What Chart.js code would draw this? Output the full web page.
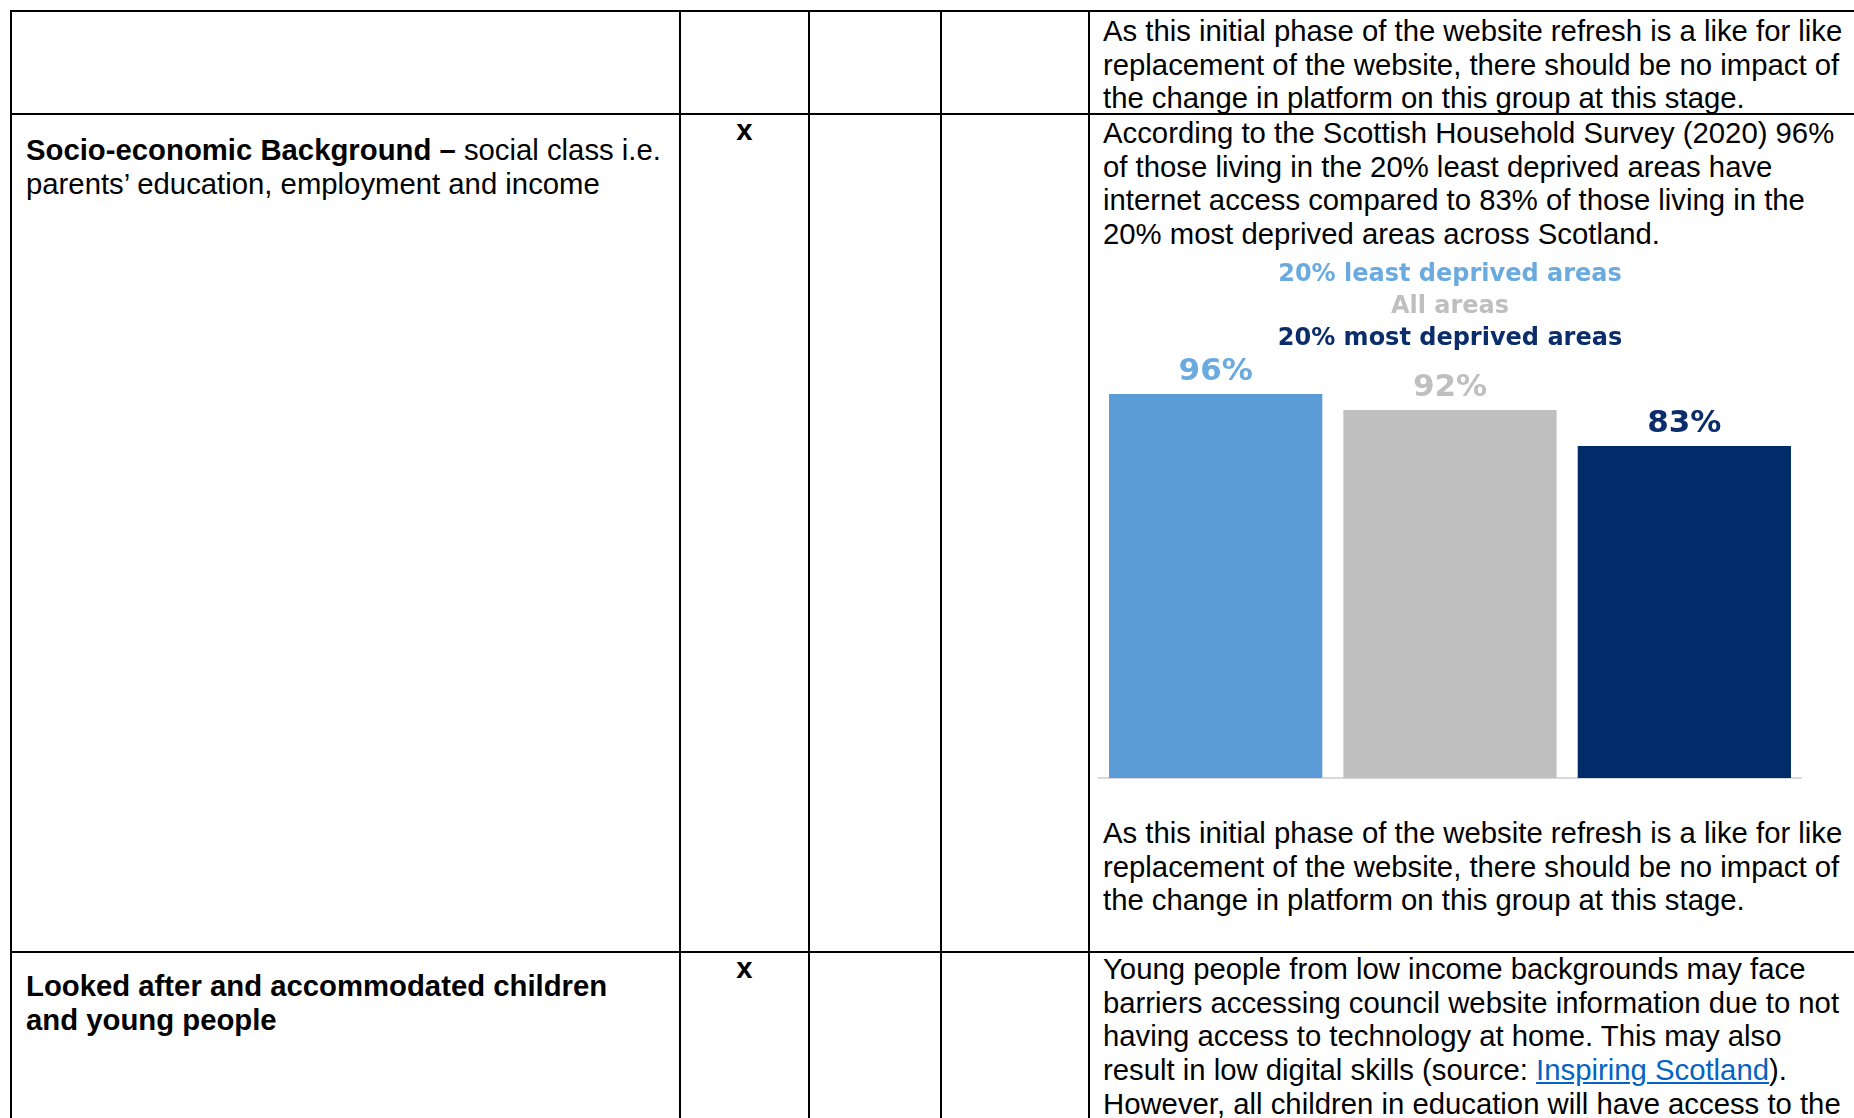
<!DOCTYPE html>
<html>
<head>
<meta charset="utf-8">
<script src="https://cdn.jsdelivr.net/npm/chart.js@4/dist/chart.umd.min.js"></script>
<style>
  html, body { margin: 0; padding: 0; background: #fff; }
  body { width: 1854px; height: 1118px; position: relative; overflow: hidden;
         font-family: "Liberation Sans", Arial, sans-serif; font-size: 29.3px; line-height: 33.7px; color: #000; }
  .hl { position: absolute; height: 2px; background: #000; }
  .vl { position: absolute; width: 2px; background: #000; }
  .txt { position: absolute; white-space: nowrap; }
  .mark { position: absolute; font-weight: bold; width: 129px; text-align: center; }
  a { color: #0563C1; text-decoration: underline; }
  #chartBox { position: absolute; left: 1091px; top: 252px; width: 720px; height: 540px; }
</style>
</head>
<body>
  <!-- table rules -->
  <div class="hl" style="left:10px; top:10px; width:1844px;"></div>
  <div class="hl" style="left:10px; top:113px; width:1844px;"></div>
  <div class="hl" style="left:10px; top:951px; width:1844px;"></div>
  <div class="vl" style="left:10px; top:10px; height:1108px;"></div>
  <div class="vl" style="left:679px; top:10px; height:1108px;"></div>
  <div class="vl" style="left:808px; top:10px; height:1108px;"></div>
  <div class="vl" style="left:940px; top:10px; height:1108px;"></div>
  <div class="vl" style="left:1088px; top:10px; height:1108px;"></div>

  <!-- row 1 -->
  <div class="txt" style="left:1103px; top:14px;">As this initial phase of the website refresh is a like for like<br>replacement of the website, there should be no impact of<br>the change in platform on this group at this stage.</div>

  <!-- row 2 -->
  <div class="txt" style="left:26px; top:133px;"><b>Socio-economic Background &ndash;</b> social class i.e.<br>parents&rsquo; education, employment and income</div>
  <div class="mark" style="left:680px; top:113px;">x</div>
  <div class="txt" style="left:1103px; top:116px;">According to the Scottish Household Survey (2020) 96%<br>of those living in the 20% least deprived areas have<br>internet access compared to 83% of those living in the<br>20% most deprived areas across Scotland.</div>
  <div id="chartBox"><canvas id="accessChart" width="720" height="540"></canvas></div>
  <div class="txt" style="left:1103px; top:816px;">As this initial phase of the website refresh is a like for like<br>replacement of the website, there should be no impact of<br>the change in platform on this group at this stage.</div>

  <!-- row 3 -->
  <div class="txt" style="left:26px; top:969px; font-weight:bold;">Looked after and accommodated children<br>and young people</div>
  <div class="mark" style="left:680px; top:951px;">x</div>
  <div class="txt" style="left:1103px; top:952px;">Young people from low income backgrounds may face<br>barriers accessing council website information due to not<br>having access to technology at home. This may also<br>result in low digital skills (source: <a href="#">Inspiring Scotland</a>).<br>However, all children in education will have access to the</div>

<script>
// Scottish Household Survey 2020 - internet access by deprivation
const areaGroups = ["20% least deprived areas", "All areas", "20% most deprived areas"];
const internetAccess = [96, 92, 83];

const barColours = ["#5B9BD5", "#BFBFBF", "#002D69"];
const textColours = ["#6AAADF", "#BFBFBF", "#0B2D6B"];

// legend lines stacked above the bars, each in its group's colour
const stackedLegend = {
  id: "stackedLegend",
  afterDraw(chart) {
    const { ctx, chartArea } = chart;
    const cx = (chartArea.left + chartArea.right) / 2;
    ctx.save();
    ctx.font = 'bold 24px "DejaVu Sans", Verdana, sans-serif';
    ctx.textAlign = "center";
    ctx.textBaseline = "alphabetic";
    chart.data.labels.forEach((label, i) => {
      ctx.fillStyle = textColours[i];
      ctx.fillText(label, cx, chartArea.top - 97 + i * 32);
    });
    ctx.restore();
  }
};

// percentage above each bar
const valueLabels = {
  id: "valueLabels",
  afterDatasetsDraw(chart) {
    const { ctx } = chart;
    const meta = chart.getDatasetMeta(0);
    ctx.save();
    ctx.font = 'bold 31px "DejaVu Sans", Verdana, sans-serif';
    ctx.textAlign = "center";
    ctx.textBaseline = "alphabetic";
    meta.data.forEach((bar, i) => {
      ctx.fillStyle = textColours[i];
      ctx.fillText(chart.data.datasets[0].data[i] + "%", bar.x, bar.y - 14);
    });
    ctx.restore();
  }
};

const ctx = document.getElementById("accessChart").getContext("2d");
new Chart(ctx, {
  type: "bar",
  data: {
    labels: areaGroups,
    datasets: [{
      label: "Internet access",
      data: internetAccess,
      backgroundColor: barColours,
      borderWidth: 0,
      barPercentage: 0.91,
      categoryPercentage: 1.0
    }]
  },
  options: {
    responsive: false,
    animation: false,
    devicePixelRatio: 1,
    layout: { padding: { left: 7.5, right: 9.5, top: 126, bottom: 14 } },
    plugins: {
      legend: { display: false },
      tooltip: { enabled: false }
    },
    scales: {
      x: {
        grid: { display: false, drawTicks: false },
        ticks: { display: false },
        border: { display: true, color: "#D9D9D9", width: 2 }
      },
      y: {
        display: false,
        min: 0,
        max: 100
      }
    }
  },
  plugins: [stackedLegend, valueLabels]
});
</script>
</body>
</html>
